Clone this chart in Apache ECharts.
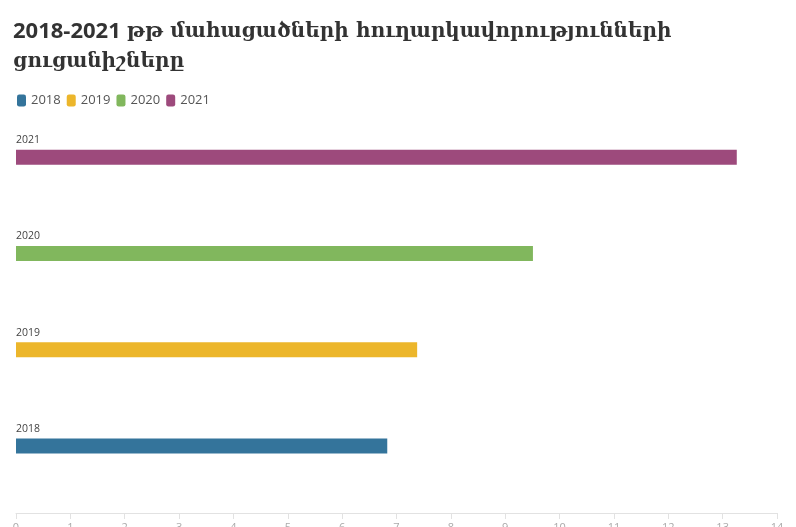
<!DOCTYPE html>
<html>
<head>
<meta charset="utf-8">
<script src="https://cdn.jsdelivr.net/npm/echarts@6/dist/echarts.min.js"></script>
<style>
html,body{margin:0;padding:0;background:#fff;}
#c{width:796px;height:527px;}
</style>
</head>
<body>
<div id="c"></div>
<script>
var titleYears = '2018-2021';
var titleLine1 = 'թթ մահացածների հուղարկավորությունների';
var titleLine2 = 'ցուցանիշները';
var categories = ['2018', '2019', '2020', '2021'];
var seriesNames = ['2018', '2019', '2020', '2021'];
var values2018 = [6.83, '-', '-', '-'];
var values2019 = ['-', 7.38, '-', '-'];
var values2020 = ['-', '-', 9.51, '-'];
var values2021 = ['-', '-', '-', 13.26];
var colors = ['#34749b', '#ecb62b', '#81b75d', '#9d4a7c'];

var allValues = [values2018, values2019, values2020, values2021];

var chart = echarts.init(document.getElementById('c'), null, {renderer: 'canvas', width: 796, height: 527});
var series = seriesNames.map(function (name, i) {
  return {
    name: name,
    type: 'bar',
    data: allValues[i],
    barWidth: 15,
    barGap: '-100%',
    itemStyle: {color: colors[i]},
    label: {
      show: true,
      position: [0, -4],
      align: 'left',
      verticalAlign: 'bottom',
      formatter: '{b}',
      color: '#444',
      fontSize: 10.5,
      fontFamily: 'Open Sans'
    },
    emphasis: {disabled: true}
  };
});

chart.setOption({
  animation: false,
  backgroundColor: '#fff',
  color: colors,
  title: {
    text: '{a|' + titleYears + '} {b|' + titleLine1 + '}\n{b|' + titleLine2 + '}',
    left: 8,
    top: 12,
    textStyle: {
      fontSize: 22,
      lineHeight: 30,
      color: '#333',
      rich: {
        a: {fontFamily: 'Open Sans', fontWeight: 'bold', fontSize: 22, lineHeight: 30, color: '#333'},
        b: {fontFamily: "'DejaVu Serif', serif", fontWeight: 'bold', fontSize: 20, lineHeight: 30, color: '#333'}
      }
    }
  },
  legend: {
    data: seriesNames,
    left: 12,
    top: 89,
    icon: 'roundRect',
    itemWidth: 9,
    itemHeight: 12,
    itemGap: 6,
    textStyle: {fontFamily: 'Open Sans', fontSize: 13, color: '#555'}
  },
  grid: {left: 16, right: 19, top: 109, height: 385, containLabel: false, outerBoundsMode: 'none'},
  xAxis: {
    type: 'value',
    min: 0,
    max: 14,
    interval: 1,
    offset: 19,
    splitLine: {show: false},
    axisLine: {show: true, lineStyle: {color: '#e2e2e2'}},
    axisTick: {show: true, length: 6, lineStyle: {color: '#e2e2e2'}},
    axisLabel: {color: '#aaa', fontSize: 11, margin: 9, fontFamily: 'Open Sans'}
  },
  yAxis: {
    type: 'category',
    data: categories,
    axisLine: {show: false},
    axisTick: {show: false},
    axisLabel: {show: false},
    splitLine: {show: false}
  },
  series: series
});
</script>
</body>
</html>
